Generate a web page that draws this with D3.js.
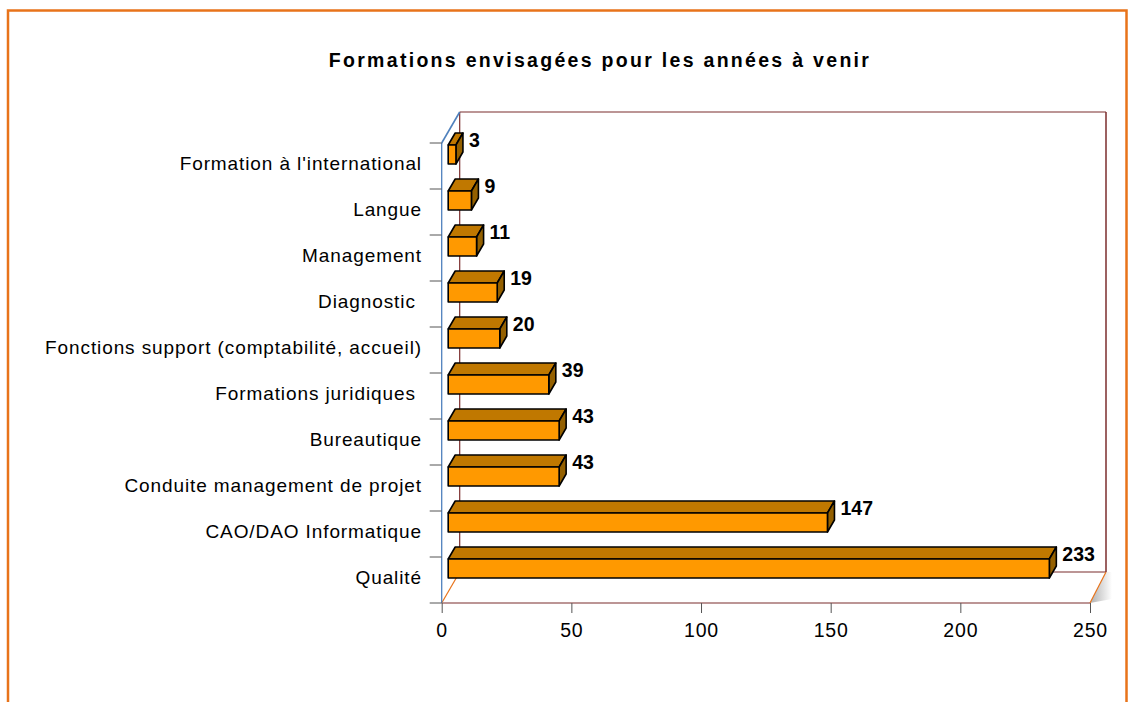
<!DOCTYPE html>
<html>
<head>
<meta charset="utf-8">
<script src="https://cdn.jsdelivr.net/npm/d3@7"></script>
<style>
  body { margin: 0; background: #fff; }
  text { font-family: "Liberation Sans", Arial, sans-serif; }
</style>
</head>
<body>
<div id="chart"></div>
<script>
// data (top to bottom)
const categories = [
  "Formation à l'international",
  "Langue",
  "Management",
  "Diagnostic ",
  "Fonctions support (comptabilité, accueil)",
  "Formations juridiques ",
  "Bureautique",
  "Conduite management de projet",
  "CAO/DAO Informatique",
  "Qualité"
]
const values = [3, 9, 11, 19, 20, 39, 43, 43, 147, 233]
const xTicks = [0, 50, 100, 150, 200, 250]
const title = "Formations envisagées pour les années à venir"

const width = 1129, height = 702
const front = { left: 441.7, right: 1090, top: 143, bottom: 603 }
const depth = { dx: 18, dy: -31 }
const barOff = { dx: 6.5, dy: -11.5 }
const barDepth = { dx: 7, dy: -12 }
const barH = 19

const colors = {
  front: '#ff9900', top: '#c07800', side: '#946000',
  wall: '#4f81bd', frame: '#7b2c2c', floorEdge: '#e8731a', border: '#e8731a'
}

const svg = d3.select('#chart').append('svg')
  .attr('width', width)
  .attr('height', height)

const defs = svg.append('defs')
const grad = defs.append('linearGradient').attr('id', 'floorShade')
  .attr('x1', 0).attr('x2', 1).attr('y1', 0).attr('y2', 0)
grad.append('stop').attr('offset', '0%').attr('stop-color', '#b0b0b0')
grad.append('stop').attr('offset', '100%').attr('stop-color', '#ffffff')

// outer border
svg.append('rect')
  .attr('x', 8).attr('y', 10.5)
  .attr('width', 1118.5).attr('height', 720)
  .attr('fill', 'none')
  .attr('stroke', colors.border)
  .attr('stroke-width', 2.5)

svg.append('text')
  .attr('x', 600).attr('y', 67)
  .attr('text-anchor', 'middle')
  .attr('font-size', 19.5)
  .attr('font-weight', 'bold')
  .attr('letter-spacing', 2.3)
  .text(title)

const x = d3.scaleLinear().domain([0, 250]).range([front.left, front.right])
// bars sit a little deeper, scale is slightly shorter there
const xBar = d3.scaleLinear().domain([0, 250])
  .range([front.left + barOff.dx, front.left + barOff.dx + 250 * 2.58])
const y = d3.scaleBand().domain(categories).range([front.top, front.bottom])

const bx = front.left + depth.dx, by = front.top + depth.dy
const bRight = front.right + 16, bBottom = front.bottom + depth.dy

// floor side shading
svg.append('path')
  .attr('d', `M${front.right},${front.bottom}L${bRight},${bBottom}L${bRight + 6},${bBottom}L${bRight + 6},${front.bottom - 4}Z`)
  .attr('fill', 'url(#floorShade)')

const line = (x1, y1, x2, y2, c, w) => svg.append('line')
  .attr('x1', x1).attr('y1', y1).attr('x2', x2).attr('y2', y2)
  .attr('stroke', c).attr('stroke-width', w || 1.2)

// back wall frame
line(bx, by, bRight, by, colors.frame)
line(bRight, by, bRight, bBottom, colors.frame, 1.5)
line(bx, by, bx, bBottom, colors.frame)
line(bx, bBottom, bRight, bBottom, colors.frame)
// floor
line(front.left, front.bottom, front.right, front.bottom, colors.frame)
line(front.left, front.bottom, bx, bBottom, colors.floorEdge)
line(front.right, front.bottom, bRight, bBottom, colors.floorEdge)
// left wall
line(front.left, front.top, front.left, front.bottom, colors.wall, 1.3)
line(front.left, front.top, bx, by, colors.wall, 1.6)

// category ticks on the wall
const yTickPos = categories.map(c => y(c)).concat([front.bottom])
svg.selectAll('.ytick').data(yTickPos).join('line')
  .attr('x1', front.left - 12).attr('x2', front.left)
  .attr('y1', d => d).attr('y2', d => d)
  .attr('stroke', '#555').attr('stroke-width', 1)

svg.selectAll('.ylab').data(categories).join('text')
  .attr('x', 422)
  .attr('y', d => y(d) + y.bandwidth() / 2 + 3.5)
  .attr('text-anchor', 'end')
  .attr('font-size', 19)
  .attr('letter-spacing', 0.9)
  .style('white-space', 'pre')
  .text(d => d)

// x axis
const xAxis = svg.append('g')
  .attr('transform', `translate(0,${front.bottom})`)
  .call(d3.axisBottom(x).tickValues(xTicks).tickSize(10).tickPadding(10).tickFormat(d3.format('d')))
xAxis.select('.domain').remove()
xAxis.selectAll('line').attr('stroke', '#555')
xAxis.selectAll('text').attr('font-size', 19.5).attr('letter-spacing', 0.8)
  .attr('font-family', '"Liberation Sans", Arial, sans-serif').attr('fill', '#000')

// bars
const bars = svg.selectAll('.bar').data(categories.map((c, i) => ({ c, v: values[i] })))
  .join('g')
bars.each(function (d) {
  const g = d3.select(this)
  const x0 = xBar(0), x1 = xBar(d.v)
  const y0 = y(d.c) + y.bandwidth() / 2 + barOff.dy - barH / 2
  const y1 = y0 + barH
  const ddx = barDepth.dx, ddy = barDepth.dy
  g.append('path')
    .attr('d', `M${x0},${y0}L${x0 + ddx},${y0 + ddy}L${x1 + ddx},${y0 + ddy}L${x1},${y0}Z`)
    .attr('fill', colors.top)
  g.append('path')
    .attr('d', `M${x1},${y0}L${x1 + ddx},${y0 + ddy}L${x1 + ddx},${y1 + ddy}L${x1},${y1}Z`)
    .attr('fill', colors.side)
  g.append('rect')
    .attr('x', x0).attr('y', y0).attr('width', x1 - x0).attr('height', barH)
    .attr('fill', colors.front)
  g.selectAll('path, rect').attr('stroke', '#000').attr('stroke-width', 1.6)
    .attr('stroke-linejoin', 'round')
  g.append('text')
    .attr('x', x1 + 13)
    .attr('y', y0 + 1.5)
    .attr('font-size', 19.5)
    .attr('font-weight', 'bold')
    .text(d.v)
})
</script>
</body>
</html>
